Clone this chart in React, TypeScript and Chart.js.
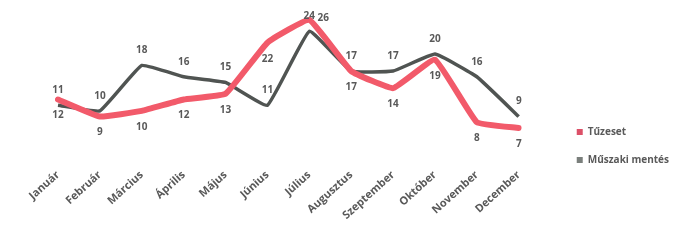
import React, { useEffect, useRef } from 'react';
import { Chart, registerables } from 'chart.js';

Chart.register(...registerables);

const months = ['Január', 'Február', 'Március', 'Április', 'Május', 'Június', 'Július', 'Augusztus', 'Szeptember', 'Október', 'November', 'December'];
const tuzeset = [12, 9, 10, 12, 13, 22, 26, 17, 14, 19, 8, 7];
const muszakiMentes = [11, 10, 18, 16, 15, 11, 24, 17, 17, 20, 16, 9];
const seriesNames = ['Tűzeset', 'Műszaki mentés'];

const TEXT = '#595959';
const FONT = 'Open Sans';

const valueLabels = {
  id: 'valueLabels',
  afterDatasetsDraw(chart: any) {
    const ctx = chart.ctx;
    ctx.save();
    ctx.font = `700 10px "${FONT}"`;
    ctx.fillStyle = TEXT;
    ctx.textAlign = 'center';
    ctx.textBaseline = 'middle';
    chart.data.datasets.forEach((ds: any, di: number) => {
      const meta = chart.getDatasetMeta(di);
      const max = Math.max(...ds.data);
      meta.data.forEach((pt: any, i: number) => {
        const v = ds.data[i];
        let x = pt.x;
        let y = pt.y;
        if (di === 0) {
          if (v === max) { x += 14; y -= 2; } else { y += 16; }
        } else {
          y -= 15;
        }
        ctx.fillText(String(v), x, y);
      });
    });
    ctx.restore();
  },
};

export default function App() {
  const ref = useRef<HTMLCanvasElement>(null);
  useEffect(() => {
    document.body.style.margin = '0';
    if (!ref.current) return;
    const chart = new Chart(ref.current, {
      type: 'line',
      data: {
        labels: months,
        datasets: [
          {
            label: seriesNames[0],
            data: tuzeset,
            borderColor: '#f25a6a',
            backgroundColor: '#dc5068',
            borderWidth: 6,
            pointRadius: 0,
            tension: 0.1,
            borderCapStyle: 'round',
            borderJoinStyle: 'round',
          },
          {
            label: seriesNames[1],
            data: muszakiMentes,
            borderColor: '#505452',
            backgroundColor: '#7a7f7c',
            borderWidth: 3.5,
            pointRadius: 0,
            tension: 0.1,
            borderJoinStyle: 'round',
          },
        ],
      },
      options: {
        animation: false,
        responsive: true,
        maintainAspectRatio: false,
        layout: { padding: { top: 8, bottom: 0, left: 58, right: -6 } },
        scales: {
          x: {
            grid: { display: false, drawTicks: false },
            border: { display: false },
            ticks: {
              minRotation: 42,
              maxRotation: 42,
              padding: 28,
              color: TEXT,
              font: { family: FONT, size: 11, weight: 'bold' },
            },
          },
          y: {
            position: 'right',
            min: 4.8,
            max: 28.1,
            grid: { display: false, drawTicks: false },
            border: { display: false },
            ticks: { display: false },
            afterFit: (s: any) => { s.width = 40; },
          },
        },
        plugins: {
          tooltip: { enabled: false },
          legend: {
            position: 'right',
            align: 'center',
            title: { display: true, text: '', padding: { top: 22, bottom: 0 }, font: { size: 10 } },
            labels: {
              boxWidth: 6,
              boxHeight: 6,
              padding: 18,
              color: TEXT,
              font: { family: FONT, size: 10, weight: 'bold' },
              generateLabels: (c: any) =>
                (Chart.defaults.plugins.legend.labels as any).generateLabels(c).map((l: any) => ({ ...l, lineWidth: 0 })),
            },
          },
        },
      } as any,
      plugins: [valueLabels],
    });
    return () => chart.destroy();
  }, []);
  return (
    <div style={{ width: 673, height: 250, position: 'relative' }}>
      <canvas ref={ref} />
    </div>
  );
}
